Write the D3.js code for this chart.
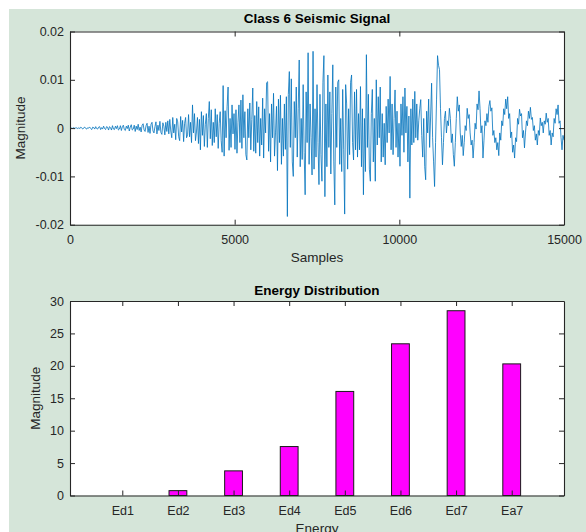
<!DOCTYPE html>
<html>
<head>
<meta charset="utf-8">
<script src="https://cdn.jsdelivr.net/npm/d3@7"></script>
<style>
  body { margin: 0; background: #fff; }
  svg { display: block; font-family: "Liberation Sans", Arial, sans-serif; }
</style>
</head>
<body>
<svg id="fig" width="586" height="532"></svg>
<script>
// seismic trace, in units of 1e-4, one value every 30 samples
var sampleStep = 30;
var signal = [
  0,1,-1,0,1,-1,1,0,-1,1,
  -1,2,0,-2,1,2,-1,-2,1,0,
  2,-1,-3,2,1,-2,3,-1,-2,2,
  3,-3,1,-2,4,-1,-3,3,2,-4,
  3,1,-4,5,-2,-3,4,-1,5,-4,
  -2,5,-5,3,6,-3,-5,4,-1,6,
  -6,2,7,-4,-2,6,-7,4,-3,8,
  -5,2,-8,6,9,-4,-7,5,10,-9,
  4,-11,8,12,-6,-10,3,13,-12,6,
  -5,14,-9,-13,11,4,-14,12,-7,15,
  -12,18,-6,-20,22,-10,8,-24,20,13,
  -18,-26,24,-8,16,-28,10,22,-20,-14,
  28,-18,12,-30,48,-10,30,-26,-8,22,
  -32,18,-45,34,-15,26,-38,8,30,-40,
  20,55,-22,38,-36,12,-30,40,-18,28,
  -42,10,34,-26,-50,88,-58,36,-20,44,
  85,-46,20,-40,48,-12,30,-44,38,-52,
  12,48,-30,58,-42,69,-20,34,-55,-66,
  40,-20,52,-45,18,83,-48,26,-52,55,
  -30,44,-58,20,-35,62,-62,40,-10,94,
  96,-48,30,-70,50,-20,72,-58,-10,45,
  -88,60,-30,68,-75,20,-58,50,-44,65,
  -183,70,117,-40,102,-70,-100,55,-20,85,
  -60,40,141,-80,20,-65,90,-50,-138,75,
  -30,156,-75,50,-20,-97,159,-85,40,-60,
  90,-30,-117,70,-55,-110,95,150,-142,50,
  -80,110,-40,75,-95,30,131,-70,-159,85,
  -40,95,100,-75,20,-90,80,-45,-178,90,
  50,-85,40,-55,95,110,-30,-66,75,-45,
  80,-60,30,-45,86,-80,40,-138,20,-90,
  152,-40,70,-85,-110,30,80,-70,20,-110,
  100,-35,65,-20,85,-70,30,-60,10,-76,
  45,-30,60,-10,107,-45,50,-55,20,79,
  -40,35,-60,10,-79,50,-15,65,-50,83,
  -10,45,-70,25,-145,40,-35,60,-30,76,
  -20,50,-25,15,40,59,-15,-60,20,-80,
  -107,35,-10,60,-40,25,93,-20,-70,-121,
  -30,60,150,130,121,40,-20,-76,-30,20,
  35,-10,15,5,41,20,-30,-12,-55,-79,
  -30,20,65,35,48,-10,-38,-15,-57,-30,
  5,-5,41,20,28,-10,-35,-25,-62,-30,
  10,-2,50,38,77,40,-10,5,-62,-25,
  15,5,30,12,45,57,35,42,-15,-5,
  -30,-20,-45,-30,-57,-10,-25,15,5,40,
  28,60,40,65,20,30,-20,-8,-50,-35,
  -62,-20,-28,20,8,39,25,30,-20,-5,
  -41,-10,15,5,35,20,43,18,22,-5,
  5,-25,-12,-35,-5,-15,21,5,12,-10,
  15,8,31,12,20,-15,-5,-35,-10,-18,
  20,10,40,28,48,10,15,-20,-45,-15,
  -25
];
var sampleTicks = [0, 5000, 10000, 15000];
var magTicks = [-0.02, -0.01, 0, 0.01, 0.02];

var energyNames = ["Ed1", "Ed2", "Ed3", "Ed4", "Ed5", "Ed6", "Ed7", "Ea7"];
var energyValues = [0, 0.75, 3.8, 7.55, 16.05, 23.4, 28.5, 20.3];
var energyTicks = [0, 5, 10, 15, 20, 25, 30];

var axisColor = "#262626";
var svg = d3.select("#fig");

// figure background
svg.append("rect").attr("x", 9).attr("y", 9).attr("width", 577).attr("height", 523)
  .attr("fill", "#d5e5d9");

function boxAxes(g, x, y, xTicks, yTicks, xFmt, yFmt, box) {
  g.append("rect").attr("x", box.left).attr("y", box.top)
    .attr("width", box.right - box.left).attr("height", box.bottom - box.top)
    .attr("fill", "#fff");
  return function drawAxes() {
    var axes = [
      [d3.axisBottom(x).tickValues(xTicks).tickFormat(xFmt).tickPadding(box.xPad), "translate(0," + box.bottom + ")"],
      [d3.axisTop(x).tickValues(xTicks).tickFormat(""), "translate(0," + box.top + ")"],
      [d3.axisLeft(y).tickValues(yTicks).tickFormat(yFmt).tickPadding(6), "translate(" + box.left + ",0)"],
      [d3.axisRight(y).tickValues(yTicks).tickFormat(""), "translate(" + box.right + ",0)"]
    ];
    axes.forEach(function(a) {
      var ax = g.append("g").attr("transform", a[1])
        .call(a[0].tickSizeInner(-5).tickSizeOuter(0));
      ax.select(".domain").attr("stroke", axisColor).attr("stroke-width", 1.1);
      ax.selectAll(".tick line").attr("stroke", axisColor);
      ax.selectAll(".tick text").attr("fill", axisColor).style("font-size", "12.5px")
        .style("font-family", '"Liberation Sans", Arial, sans-serif');
    });
  };
}

// ---- top: seismic signal ----
var box1 = { left: 70, right: 564, top: 31.5, bottom: 224.7, xPad: 10 };
var x1 = d3.scaleLinear().domain([0, 15000]).range([box1.left, box1.right]);
var y1 = d3.scaleLinear().domain([-0.02, 0.02]).range([box1.bottom, box1.top]);
var g1 = svg.append("g");
var axes1 = boxAxes(g1, x1, y1, sampleTicks, magTicks, d3.format("d"),
  function(d) { return d === 0 ? "0" : d.toFixed(2); }, box1);

svg.append("clipPath").attr("id", "clip1").append("rect")
  .attr("x", box1.left).attr("y", box1.top)
  .attr("width", box1.right - box1.left).attr("height", box1.bottom - box1.top);

var line = d3.line()
  .x(function(d, i) { return x1(i * sampleStep); })
  .y(function(d) { return y1(d / 1e4); });

g1.append("path").datum(signal)
  .attr("clip-path", "url(#clip1)")
  .attr("d", line)
  .attr("fill", "none")
  .attr("stroke", "#0072bd")
  .attr("stroke-width", 0.8);

axes1();

g1.append("text").attr("x", (box1.left + box1.right) / 2).attr("y", 23)
  .attr("text-anchor", "middle").style("font-weight", "bold").style("font-size", "13.5px")
  .attr("fill", "#000").text("Class 6 Seismic Signal");
g1.append("text").attr("x", (box1.left + box1.right) / 2).attr("y", 262)
  .attr("text-anchor", "middle").style("font-size", "13.5px").attr("fill", axisColor)
  .text("Samples");
g1.append("text").attr("transform", "translate(25," + (box1.top + box1.bottom) / 2 + ") rotate(-90)")
  .attr("text-anchor", "middle").style("font-size", "13.5px").attr("fill", axisColor)
  .text("Magnitude");

// ---- bottom: energy distribution ----
var box2 = { left: 70, right: 564, top: 301, bottom: 495.5, xPad: 10.5 };
var x2 = d3.scaleLinear().domain([0.06, 8.94]).range([box2.left, box2.right]);
var y2 = d3.scaleLinear().domain([0, 30]).range([box2.bottom, box2.top]);
var g2 = svg.append("g");
var catPos = energyNames.map(function(d, i) { return i + 1; });
var axes2 = boxAxes(g2, x2, y2, catPos, energyTicks,
  function(d) { return energyNames[d - 1]; }, d3.format("d"), box2);

var barW = 0.32;
g2.selectAll("rect.bar").data(energyValues).enter().append("rect")
  .attr("class", "bar")
  .attr("x", function(d, i) { return x2(i + 1 - barW / 2); })
  .attr("width", x2(barW) - x2(0))
  .attr("y", function(d) { return y2(d); })
  .attr("height", function(d) { return y2(0) - y2(d); })
  .attr("fill", "#ff00ff")
  .attr("stroke", "#1a1a1a")
  .attr("stroke-width", 1);

axes2();

g2.append("text").attr("x", (box2.left + box2.right) / 2).attr("y", 295)
  .attr("text-anchor", "middle").style("font-weight", "bold").style("font-size", "13.5px")
  .attr("fill", "#000").text("Energy Distribution");
g2.append("text").attr("x", (box2.left + box2.right) / 2).attr("y", 533)
  .attr("text-anchor", "middle").style("font-size", "13.5px").attr("fill", axisColor)
  .text("Energy");
g2.append("text").attr("transform", "translate(40," + (box2.top + box2.bottom) / 2 + ") rotate(-90)")
  .attr("text-anchor", "middle").style("font-size", "13.5px").attr("fill", axisColor)
  .text("Magnitude");
</script>
</body>
</html>
